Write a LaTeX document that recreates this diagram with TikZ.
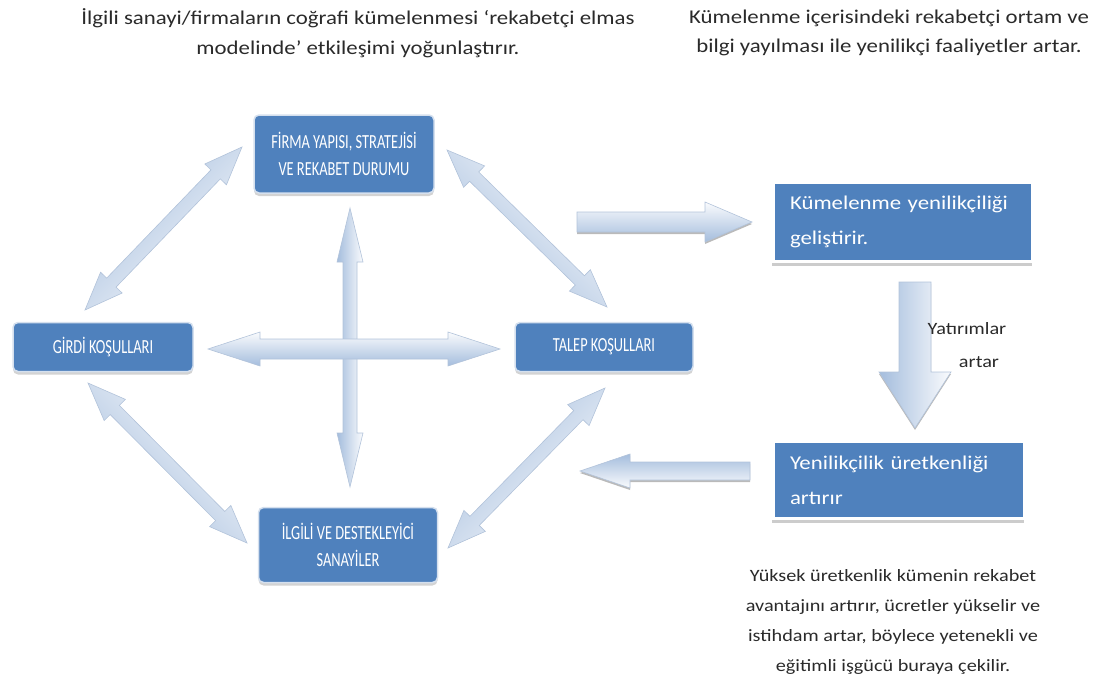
\documentclass[tikz,border=0pt]{standalone}
\usepackage{fontspec}
\setmainfont{Carlito}
\newfontfamily\widefont[FakeStretch=1.17]{Carlito}
\usetikzlibrary{calc,shadows}

\definecolor{boxblue}{HTML}{4F81BD}
\definecolor{boxedge}{HTML}{D5E0EE}
\definecolor{arrowblue}{HTML}{A4BDDD}
\definecolor{arrowpale}{HTML}{FAFBFD}
\definecolor{arrowedge}{HTML}{B2C3DA}
\definecolor{txtgray}{HTML}{2A2A2A}

% double-headed block arrow: tip #1, tip #2, shaft half width, head half width, head length, shading angle
\newcommand\dblblockarrow[6]{%
  \path[arrowbody, shading angle=#6]
    (#1)
    -- ($(#1)!#5!(#2)!#4!90:(#2)$)
    -- ($(#1)!#5!(#2)!#3!90:(#2)$)
    -- ($(#2)!#5!(#1)!#3!-90:(#1)$)
    -- ($(#2)!#5!(#1)!#4!-90:(#1)$)
    -- (#2)
    -- ($(#2)!#5!(#1)!#4!90:(#1)$)
    -- ($(#2)!#5!(#1)!#3!90:(#1)$)
    -- ($(#1)!#5!(#2)!#3!-90:(#2)$)
    -- ($(#1)!#5!(#2)!#4!-90:(#2)$)
    -- cycle;}

% single-headed block arrow: tail #1, tip #2, shaft half width, head half width, head length, shading angle
\newcommand\sglblockarrow[6]{%
  \path[arrowbody, chainshadow, shading angle=#6]
    ($(#1)!#3!90:(#2)$)
    -- ($(#2)!#5!(#1)!#3!-90:(#1)$)
    -- ($(#2)!#5!(#1)!#4!-90:(#1)$)
    -- (#2)
    -- ($(#2)!#5!(#1)!#4!90:(#1)$)
    -- ($(#2)!#5!(#1)!#3!90:(#1)$)
    -- ($(#1)!#3!-90:(#2)$)
    -- cycle;}

\begin{document}
\begin{tikzpicture}[x=1pt, y=-1pt,
  arrowbody/.style={draw=arrowedge, line width=0.6pt, line join=miter,
    left color=arrowpale, right color=arrowblue},
  chainshadow/.style={drop shadow={shadow xshift=0pt, shadow yshift=-2pt,
    opacity=0.45, fill=black!60}},
  capsbox/.style={rectangle, rounded corners=5pt, fill=boxblue, draw=boxedge,
    line width=1.5pt, text=white, align=center, inner sep=0pt,
    drop shadow={shadow xshift=0pt, shadow yshift=-3pt, opacity=0.35},
    font=\fontsize{20}{27}\selectfont},
  flatbox/.style={rectangle, fill=boxblue, draw=white, line width=3.5pt,
    text=white, align=left, inner xsep=17pt, inner ysep=0pt,
    drop shadow={shadow xshift=-1.5pt, shadow yshift=-4.5pt, opacity=0.4},
    font=\widefont\fontsize{19.5}{35}\selectfont},
  note/.style={align=center, inner sep=0pt, text=txtgray,
    font=\widefont\fontsize{19.5}{29.5}\selectfont},
  smallnote/.style={align=center, inner sep=0pt, text=txtgray,
    font=\widefont\fontsize{17.3}{30}\selectfont}]

\useasboundingbox (0,0) rectangle (1093,683);

% arrow end points
\coordinate (d1a) at (242,147);  \coordinate (d1b) at (85,310);
\coordinate (d2a) at (447,150);  \coordinate (d2b) at (607,307);
\coordinate (d3a) at (88,383);   \coordinate (d3b) at (247,543);
\coordinate (d4a) at (605,388);  \coordinate (d4b) at (448,548);
\coordinate (ha)  at (208,349);  \coordinate (hb)  at (500,349);
\coordinate (va)  at (350,208);  \coordinate (vb)  at (350,487);
\coordinate (ra)  at (577,222);  \coordinate (rb)  at (752,222);
\coordinate (da)  at (915,282);  \coordinate (db)  at (915,428);
\coordinate (la)  at (750,471);  \coordinate (lb)  at (580,471);

% diamond arrows
\dblblockarrow{d1a}{d1b}{6.5pt}{15pt}{38pt}{-134}
\dblblockarrow{d2a}{d2b}{6.5pt}{15pt}{38pt}{-44}
\dblblockarrow{d3a}{d3b}{6.5pt}{15pt}{38pt}{-45}
\dblblockarrow{d4a}{d4b}{6.5pt}{15pt}{38pt}{-134}
\dblblockarrow{va}{vb}{7pt}{13pt}{54pt}{-90}
\dblblockarrow{ha}{hb}{10pt}{17pt}{52pt}{0}

% chain arrows
\sglblockarrow{ra}{rb}{10pt}{20pt}{47pt}{0}
\sglblockarrow{da}{db}{16pt}{36pt}{56pt}{-90}
\sglblockarrow{la}{lb}{9pt}{17pt}{50pt}{180}

% captions
\node[note] (capA) at (358,33) {İlgili sanayi/firmaların coğrafi kümelenmesi ‘rekabetçi elmas\\modelinde’ etkileşimi yoğunlaştırır.};
\node[note] (capB) at (889,33) {Kümelenme içerisindeki rekabetçi ortam ve\\bilgi yayılması ile yenilikçi faaliyetler artar.};
\node[smallnote] (capC1) at (967,329) {Yatırımlar};
\node[smallnote] (capC2) at (979,362) {artar};
\node[smallnote] (capD) at (893,622) {Yüksek üretkenlik kümenin rekabet\\avantajını artırır, ücretler yükselir ve\\istihdam artar, böylece yetenekli ve\\eğitimli işgücü buraya çekilir.};

% boxes
\node[capsbox, minimum width=180pt, minimum height=78pt] (firma) at (344,154)
  {\scalebox{0.72}[1]{FİRMA YAPISI, STRATEJİSİ}\\\scalebox{0.72}[1]{VE REKABET DURUMU}};
\node[capsbox, minimum width=180pt, minimum height=49pt] (girdi) at (103,347)
  {\scalebox{0.72}[1]{GİRDİ KOŞULLARI}};
\node[capsbox, minimum width=178pt, minimum height=49pt] (talep) at (604,347)
  {\scalebox{0.72}[1]{TALEP KOŞULLARI}};
\node[capsbox, minimum width=179pt, minimum height=75pt] (ilgili) at (348,545)
  {\scalebox{0.72}[1]{İLGİLİ VE DESTEKLEYİCİ}\\\scalebox{0.72}[1]{SANAYİLER}};

\node[flatbox, text width=226pt, minimum height=79pt] (kum) at (903,222)
  {Kümelenme yenilikçiliği\\geliştirir.};
\node[flatbox, text width=218pt, minimum height=77pt] (yen) at (899,480)
  {Yenilikçilik üretkenliği\\artırır};

\end{tikzpicture}
\end{document}
